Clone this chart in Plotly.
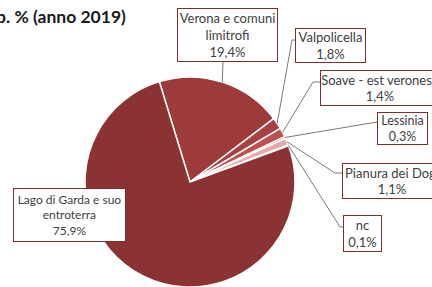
import math
import plotly.graph_objects as go

# ---- data ----
labels = ["Verona e comuni limitrofi", "Valpolicella", "Soave - est veronese",
          "Lessinia", "Pianura dei Dogi", "nc", "Lago di Garda e suo entroterra"]
label_text = ["Verona e comuni<br>limitrofi", "Valpolicella", "Soave - est veronese",
              "Lessinia", "Pianura dei Dogi", "nc", "Lago di Garda e suo<br>entroterra"]
values = [19.4, 1.8, 1.4, 0.3, 1.1, 0.1, 75.9]
value_labels = ["19,4%", "1,8%", "1,4%", "0,3%", "1,1%", "0,1%", "75,9%"]
title_text = "Comp. % (anno 2019)"

# ---- styling ----
colors = ["#9D3A3A", "#A94141", "#C0504D", "#D27472", "#E3AAA9", "#EDC9C8", "#8B3232"]
W, H = 432, 287
ROT = -17  # start angle (deg, clockwise from 12 o'clock)
CX, CY, R = 190, 182, 105  # pixel geometry of the pie
FONT = "Lato"

def px(x):
    return x / W

def py(y):
    return 1 - y / H

fig = go.Figure(go.Pie(
    labels=labels, values=values, sort=False, direction="clockwise",
    rotation=ROT, textinfo="none", hoverinfo="label+percent",
    marker=dict(colors=colors, line=dict(color="white", width=1.5)),
    domain=dict(x=[px(CX - R), px(CX + R)], y=[py(CY + R), py(CY - R)]),
    showlegend=False,
))

# box layout: (left, top, width, height, bend point or None, stub end, font size)
boxes = [
    (177, 8, 101, 54, None, (223, 62), 13),
    (295, 28, 71, 35, (292, 40), (295, 40), 13),
    (320, 70, 120, 36, (313, 82), (320, 82), 13),
    (377, 112, 51, 33, None, (377, 122), 12.5),
    (342, 163, 100, 36, (335, 173), (342, 173), 13),
    (343, 215, 39, 37, (340, 227), (343, 227), 13),
    (13, 188, 113, 54, None, None, 12),
]

total = sum(values)
cum = 0.0
annotations = []
shapes = []
for i, v in enumerate(values):
    mid = ROT + (cum + v / 2) / total * 360
    cum += v
    a = math.radians(mid)
    sx, sy = CX + R * math.sin(a), CY - R * math.cos(a)
    left, top, bw, bh, bend, end, fs = boxes[i]
    if end is not None:
        pts = [(sx, sy)]
        if bend is not None:
            pts.append(bend)
        pts.append(end)
        path = "M " + " L ".join(f"{px(x):.5f},{py(y):.5f}" for x, y in pts)
        shapes.append(dict(type="path", path=path, xref="paper", yref="paper",
                           line=dict(color="#6b6b6b", width=0.9)))
    annotations.append(dict(
        x=px(left), y=py(top), xref="paper", yref="paper",
        xanchor="left", yanchor="top", showarrow=False,
        text=f"{label_text[i]}<br>{value_labels[i]}",
        width=bw - 4, height=bh - 4, align="center", valign="middle",
        bgcolor="white", bordercolor="#7E2E2E", borderwidth=1, borderpad=1,
        font=dict(family=FONT, size=fs, color="#404040"),
    ))

annotations.append(dict(
    x=px(128), y=py(4), xref="paper", yref="paper", xanchor="right", yanchor="top",
    showarrow=False, text=f"<b>{title_text}</b>",
    font=dict(family=FONT, size=17.5, color="#1a1a1a"),
))

fig.update_layout(
    width=W, height=H, margin=dict(l=0, r=0, t=0, b=0),
    paper_bgcolor="white", plot_bgcolor="white",
    annotations=annotations, shapes=shapes,
)
fig.write_html("out.html", config={"displayModeBar": False},
               post_script="document.body.style.margin='0';document.body.style.overflow='hidden';")
